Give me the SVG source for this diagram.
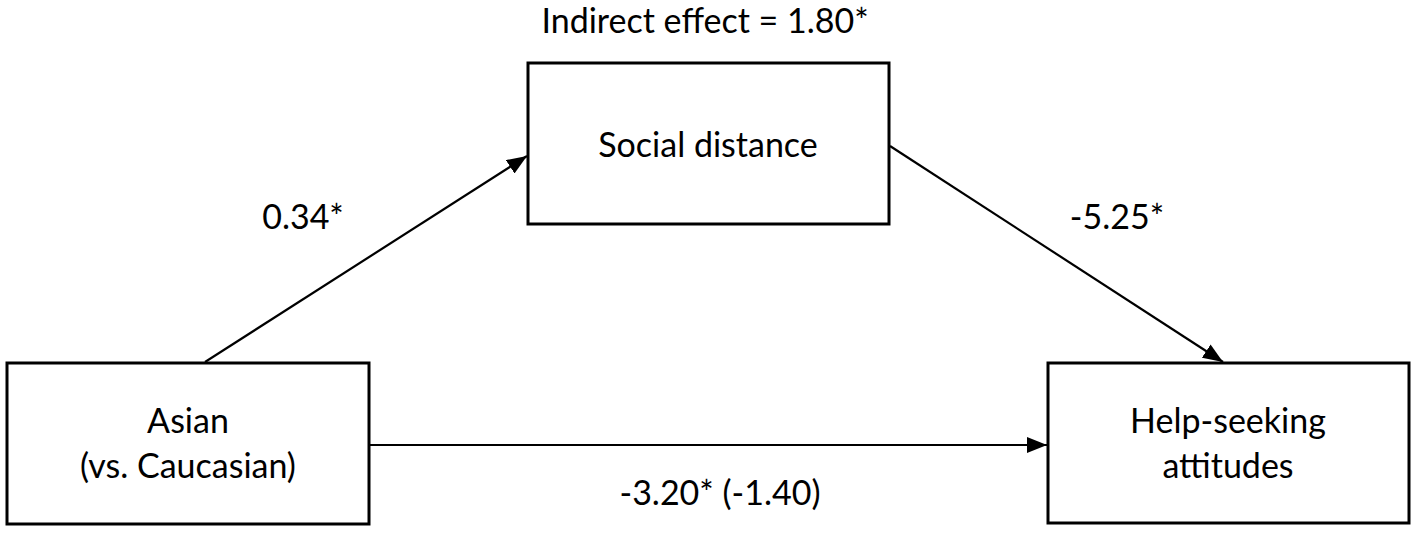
<svg xmlns="http://www.w3.org/2000/svg" width="1417" height="533" viewBox="0 0 1417 533">
<style>
.box{fill:#fff;stroke:#000;stroke-width:3}
.lbl{font-family:Lato,"Open Sans",sans-serif;font-size:34px;fill:#000;text-anchor:middle}
.con{stroke:#000;stroke-width:2.2;fill:none;marker-end:url(#arr)}
</style>
<defs>
<marker id="arr" viewBox="0 0 20 16" refX="20" refY="8" markerWidth="20" markerHeight="16" markerUnits="userSpaceOnUse" orient="auto">
<path d="M0,0 L20,8 L0,16 z" fill="#000"/>
</marker>
</defs>
<rect width="1417" height="533" fill="#fff"/>
<g id="connectors">
<line class="con" x1="205" y1="362" x2="527" y2="156"/>
<line class="con" x1="890" y1="146" x2="1223" y2="362"/>
<line class="con" x1="369" y1="445" x2="1047" y2="445"/>
</g>
<g id="node-social">
<rect class="box" x="528" y="63" width="361" height="161"/>
<text class="lbl" x="708" y="157">Social distance</text>
</g>
<g id="node-asian">
<rect class="box" x="7" y="363" width="362" height="161"/>
<text class="lbl" x="188" y="433">Asian</text>
<text class="lbl" x="188" y="478">(vs. Caucasian)</text>
</g>
<g id="node-help">
<rect class="box" x="1048" y="363" width="361" height="160"/>
<text class="lbl" x="1228" y="433">Help-seeking</text>
<text class="lbl" x="1228" y="478">attitudes</text>
</g>
<g id="labels">
<text class="lbl" x="705" y="33">Indirect effect = 1.80*</text>
<text class="lbl" x="303" y="229">0.34*</text>
<text class="lbl" x="1117" y="229">-5.25*</text>
<text class="lbl" x="720" y="505">-3.20* (-1.40)</text>
</g>
</svg>
